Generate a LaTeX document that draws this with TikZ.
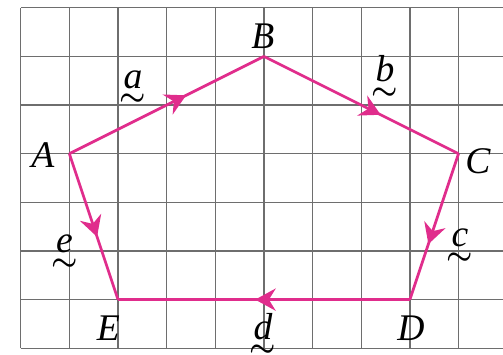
\documentclass[tikz,border=0pt]{standalone}
\usepackage{fontspec}
\setmainfont{Liberation Serif}
\usetikzlibrary{decorations.markings,arrows.meta}
\definecolor{vpink}{RGB}{224,45,140}
\definecolor{gridgray}{RGB}{110,110,110}
\newcommand{\boldtilde}{\hbox{\fontsize{16}{16}\selectfont\boldmath$\sim$}}
\newcommand{\tvec}[1]{\vtop{\offinterlineskip\halign{\hfil##\hfil\cr\textit{#1}\cr\noalign{\kern3.5pt}\boldtilde\cr}}}
\tikzset{
  gridline/.style={draw=gridgray,line width=0.8pt},
  vecedge/.style={draw=vpink,line width=1.6pt,postaction={decorate},
    decoration={markings,mark=at position #1 with {\arrow{Stealth[length=12pt,width=13pt,inset=4pt]}}}},
  vertexlabel/.style={anchor=base,inner sep=0pt,font=\fontsize{22}{24}\selectfont\itshape},
  veclabel/.style={anchor=base,inner sep=0pt,font=\fontsize{22}{24}\selectfont},
}
\begin{document}
\begin{tikzpicture}[x=1cm,y=1cm]
\useasboundingbox (-0.4255,-0.1377) rectangle (9.914,7.159);
% grid
\foreach \i in {0,...,9} {\draw[gridline] (\i,0) -- (\i,7);}
\foreach \j in {0,...,7} {\draw[gridline] (0,\j) -- (9.914,\j);}
% vertices
\coordinate (A) at (1,4);
\coordinate (B) at (5,6);
\coordinate (C) at (9,4);
\coordinate (D) at (8,1);
\coordinate (E) at (2,1);
% edges
\path[vecedge=0.6] (A) -- (B);
\path[vecedge=0.6] (B) -- (C);
\path[vecedge=0.62] (C) -- (D);
\path[vecedge=0.53] (D) -- (E);
\path[vecedge=0.57] (A) -- (E);
% vertex labels
\node[vertexlabel] (lA) at (0.458,3.706) {A};
\node[vertexlabel] (lB) at (4.98,6.17) {B};
\node[vertexlabel] (lC) at (9.4,3.6) {C};
\node[vertexlabel] (lD) at (8.02,0.17) {D};
\node[vertexlabel] (lE) at (1.8,0.17) {E};
% vector labels
\node[veclabel] (la) at (2.31,5.35) {\tvec{a}};
\node[veclabel] (lb) at (7.49,5.48) {\tvec{b}};
\node[veclabel] (lc) at (9.03,2.09) {\tvec{c}};
\node[veclabel] (ld) at (4.98,0.19) {\tvec{d}};
\node[veclabel] (le) at (0.9,1.96) {\tvec{e}};
\end{tikzpicture}
\end{document}
